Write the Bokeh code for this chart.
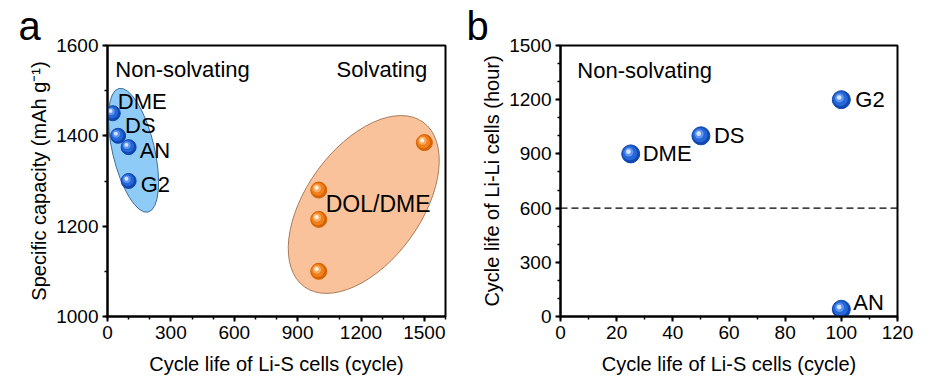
from bokeh.plotting import figure
from bokeh.models import ColumnDataSource, Range1d, SingleIntervalTicker, Span, Label
from bokeh.layouts import row
from bokeh.transform import dodge
from bokeh.embed import file_html
from bokeh.resources import INLINE
from bokeh.core.properties import value

# ---------------- data: panel a ----------------
nonsolv_names = ["DME", "DS", "AN", "G2"]
nonsolv_cycles = [25, 50, 100, 100]
nonsolv_capacity = [1450, 1400, 1375, 1300]
solv_cycles = [1000, 1000, 1000, 1500]
solv_capacity = [1280, 1215, 1100, 1385]
solv_name = "DOL/DME"
nonsolv_group_center = [123, 1368]
solv_group_center = [1213, 1248]
a_xticks_interval = 300
a_yticks_interval = 200

# ---------------- data: panel b ----------------
b_names = ["DME", "DS", "G2", "AN"]
b_lis_cycles = [25, 50, 100, 100]
b_lili_hours = [900, 1000, 1200, 40]
threshold_hours = 600
b_xticks_interval = 20
b_yticks_interval = 300

# ---------------- styles ----------------
FONT = "Liberation Sans"
a_label_dx = [5, 7, 11, 12]
a_label_dy = [-12, -10, 3, 3]
b_label_dx = [12, 13, 14, 12]
b_label_dy = [0, 0, 0, -7]

BLUE = ["#0f46b0", "#2566d8", "#5f95ec", "#d4e4fb"]
ORANGE = ["#d66300", "#f2801a", "#f9ac63", "#fff1e2"]

FH = 271          # frame height
TOP = 45          # frame top
HEIGHT = 383


def style(p, xint, yint, xminor, yminor, xlabel, ylabel, letter, letter_off):
    p.xgrid.visible = False
    p.ygrid.visible = False
    p.outline_line_color = "black"
    p.outline_line_width = 2
    p.outline_line_alpha = 1
    p.xaxis.ticker = SingleIntervalTicker(interval=xint, num_minor_ticks=xminor)
    p.yaxis.ticker = SingleIntervalTicker(interval=yint, num_minor_ticks=yminor)
    for ax in (p.xaxis, p.yaxis):
        ax.axis_line_width = 2
        ax.axis_line_color = "black"
        ax.major_tick_line_width = 2
        ax.major_tick_line_color = "black"
        ax.minor_tick_line_width = 1.5
        ax.minor_tick_line_color = "black"
        ax.major_tick_out = 5
        ax.major_tick_in = 0
        ax.minor_tick_out = 3
        ax.minor_tick_in = 0
        ax.major_label_text_font = FONT
        ax.major_label_text_font_size = "19px"
        ax.major_label_text_color = "black"
        ax.major_label_standoff = 4
        ax.axis_label_text_font = FONT
        ax.axis_label_text_font_size = "20px"
        ax.axis_label_text_font_style = "normal"
        ax.axis_label_text_color = "black"
    p.xaxis.axis_label_standoff = 11
    p.yaxis.axis_label_standoff = 3
    p.xaxis.axis_label = xlabel
    p.yaxis.axis_label = ylabel
    p.title.text = letter
    p.title.align = "left"
    p.title.offset = letter_off
    p.title.text_font = FONT
    p.title.text_font_size = "40px"
    p.title.text_font_style = "normal"
    p.title.text_color = "black"
    p.title.standoff = -4


def spheres(p, xs, ys, size, colors, fw, fh):
    dxp = (p.x_range.end - p.x_range.start) / fw
    dyp = (p.y_range.end - p.y_range.start) / fh
    src = ColumnDataSource(dict(x=xs, y=ys))
    p.scatter("x", "y", source=src, size=size, fill_color=colors[0], line_color=colors[0])
    p.scatter(dodge("x", -0.8 * dxp), dodge("y", 0.8 * dyp), source=src, size=size * 0.82,
              fill_color=colors[1], line_color=None)
    p.scatter(dodge("x", -1.8 * dxp), dodge("y", 1.8 * dyp), source=src, size=size * 0.5,
              fill_color=colors[2], line_color=None)
    p.scatter(dodge("x", -2.2 * dxp), dodge("y", 2.2 * dyp), source=src, size=size * 0.26,
              fill_color=colors[3], line_color=None)


def names(p, xs, ys, txt, dx, dy):
    src = ColumnDataSource(dict(x=xs, y=ys, t=txt, dx=dx, dy=dy))
    p.text("x", "y", text="t", x_offset="dx", y_offset="dy", source=src,
           text_font=value(FONT), text_font_size="22px", text_color="black",
           text_align="left", text_baseline="middle")


def note(p, x, y, text, align="left", size="22px"):
    p.add_layout(Label(x=x, y=y, text=text, text_align=align, text_baseline="middle",
                       text_font=FONT, text_font_size=size, text_color="black"))


# ---------------- panel a ----------------
FWA = 338
WA = 468
pa = figure(width=WA, height=HEIGHT, x_range=Range1d(0, 1600), y_range=Range1d(1000, 1600),
            min_border_left=107, min_border_right=WA - 107 - FWA, min_border_top=TOP,
            min_border_bottom=HEIGHT - TOP - FH, output_backend="svg", toolbar_location=None)
style(pa, a_xticks_interval, a_yticks_interval, 3, 2,
      "Cycle life of Li-S cells (cycle)", "Specific capacity (mAh g\u207b\u00b9)", "a", -89)

pa.ellipse(x=[nonsolv_group_center[0]], y=[nonsolv_group_center[1]], width=42, height=127,
           angle=0.232, width_units="screen", height_units="screen",
           fill_color="#8ecbf6", line_color="#3d6f9c", line_width=1)
pa.ellipse(x=[solv_group_center[0]], y=[solv_group_center[1]], width=203, height=115,
           angle=0.946, width_units="screen", height_units="screen",
           fill_color="#f9c29b", line_color="#a87c5a", line_width=1)

spheres(pa, nonsolv_cycles, nonsolv_capacity, 15, BLUE, FWA, FH)
spheres(pa, solv_cycles, solv_capacity, 16, ORANGE, FWA, FH)
names(pa, nonsolv_cycles, nonsolv_capacity, nonsolv_names, a_label_dx, a_label_dy)

note(pa, 37, 1546, "Non-solvating")
note(pa, 1513, 1546, "Solvating", align="right")
note(pa, 1033, 1248, solv_name, size="23px")

# ---------------- panel b ----------------
FWB = 337
WB = 465
pb = figure(width=WB, height=HEIGHT, x_range=Range1d(0, 120), y_range=Range1d(0, 1500),
            min_border_left=92, min_border_right=WB - 92 - FWB, min_border_top=TOP,
            min_border_bottom=HEIGHT - TOP - FH, output_backend="svg", toolbar_location=None)
style(pb, b_xticks_interval, b_yticks_interval, 2, 3,
      "Cycle life of Li-S cells (cycle)", "Cycle life of Li-Li cells (hour)", "b", -94)

pb.add_layout(Span(location=threshold_hours, dimension="width", line_color="black",
                   line_alpha=1.0, line_width=1.3, line_dash="7 4"))
spheres(pb, b_lis_cycles, b_lili_hours, 18, BLUE, FWB, FH)
names(pb, b_lis_cycles, b_lili_hours, b_names, b_label_dx, b_label_dy)

note(pb, 6, 1364, "Non-solvating")

layout = row(pa, pb)
open("out.html", "w").write(file_html(layout, INLINE))
